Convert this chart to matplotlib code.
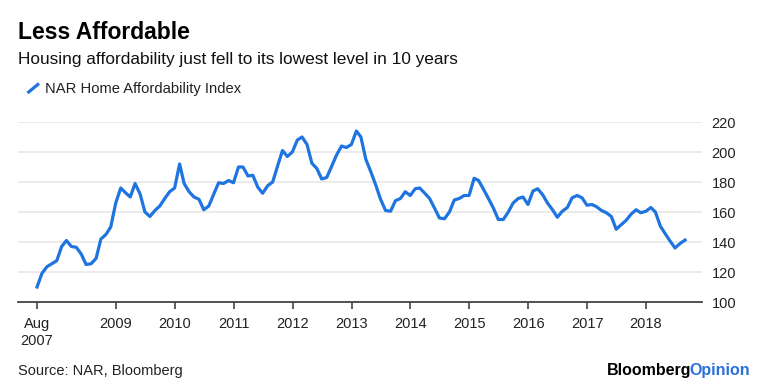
import matplotlib
matplotlib.use('Agg')
import matplotlib.pyplot as plt
import matplotlib.dates as mdates
import pandas as pd

# NAR Home Affordability Index, monthly, Aug 2007 - Aug 2018
hai_2007 = [110, 119, 123.5, 125.5, 127.5]
hai_2008 = [137, 141, 137, 136.5, 132, 125, 125.5, 129, 142, 145, 150, 166]
hai_2009 = [176, 173, 170, 179, 172, 160, 157, 161, 164, 169, 173.5, 176]
hai_2010 = [192, 179, 173.5, 170, 168.5, 161.5, 164, 172, 179.5, 179, 181, 179.5]
hai_2011 = [190, 190, 184, 184.5, 176.5, 172.5, 177.5, 180, 190.5, 201, 197, 200]
hai_2012 = [208, 210, 205, 192.5, 189, 182, 183, 190.5, 198, 204, 203, 205]
hai_2013 = [214, 210, 195, 187, 178, 168.5, 161, 160.5, 167.5, 169, 173.5, 171]
hai_2014 = [175.5, 176, 172.5, 169, 162.5, 156, 155.5, 160, 168, 169, 171, 171]
hai_2015 = [182.5, 181, 175, 169, 162.5, 155, 155, 160, 166, 169, 170, 165]
hai_2016 = [174, 175.5, 171.5, 166, 161.5, 156.5, 160.5, 163, 169.5, 171, 169.5, 164.5]
hai_2017 = [165, 163.5, 161, 159.5, 157, 148.5, 151.5, 154.5, 158.5, 161.5, 159.5, 160.5]
hai_2018 = [163, 160, 150.5, 145.5, 140.5, 136, 139, 141.3]

values = (hai_2007 + hai_2008 + hai_2009 + hai_2010 + hai_2011 + hai_2012
          + hai_2013 + hai_2014 + hai_2015 + hai_2016 + hai_2017 + hai_2018)
dates = pd.date_range('2007-08-31', periods=len(values), freq='ME')

tick_dates = ['2007-08-31'] + ['%d-01-01' % y for y in range(2009, 2019)]
tick_labels = ['Aug\n2007'] + [str(y) for y in range(2009, 2019)]
y_ticks = [100, 120, 140, 160, 180, 200, 220]

blue = '#1f74e0'
font = 'Liberation Sans'
plt.rcParams['font.family'] = [font, 'DejaVu Sans']

W, H = 760, 387
fig = plt.figure(figsize=(W / 100, H / 100), dpi=100)
ax = fig.add_axes([18 / W, 1 - 302 / H, (702 - 18) / W, (302 - 122) / H])

ax.plot(dates, values, color=blue, lw=2.3, solid_joinstyle='round', zorder=3)

ax.set_xlim(pd.Timestamp('2007-05-05'), pd.Timestamp('2018-12-14'))
ax.set_ylim(100, 220)
ax.set_yticks(y_ticks)
ax.yaxis.tick_right()
ax.tick_params(axis='y', length=0, pad=7, labelsize=10.5, labelcolor='#222222')
ax.grid(axis='y', color='#e8e8e8', lw=1.2)
ax.set_axisbelow(True)

ax.set_xticks([mdates.date2num(pd.Timestamp(d)) for d in tick_dates])
ax.set_xticklabels(tick_labels, linespacing=1.25)
ax.tick_params(axis='x', length=5, width=1.2, color='#444444', pad=6,
               labelsize=10.5, labelcolor='#222222')

for s in ['top', 'left', 'right']:
    ax.spines[s].set_visible(False)
ax.spines['bottom'].set_color('#444444')
ax.spines['bottom'].set_linewidth(1.3)

# header
fig.text(18 / W, 1 - 39 / H, 'Less Affordable', fontsize=16.5, fontweight='bold',
         va='baseline', ha='left')
fig.text(18 / W, 1 - 64 / H,
         'Housing affordability just fell to its lowest level in 10 years',
         fontsize=12.4, va='baseline', ha='left', color='#111111')
fig.add_artist(plt.Line2D([27.5 / W, 39 / W], [1 - 93 / H, 1 - 83.5 / H],
                          color=blue, lw=2.3, solid_capstyle='butt'))
fig.text(45 / W, 1 - 93 / H, 'NAR Home Affordability Index', fontsize=10.6,
         va='baseline', ha='left', color='#222222')

# footer
fig.text(18 / W, 1 - 375 / H, 'Source: NAR, Bloomberg', fontsize=10.5,
         va='baseline', ha='left', color='#222222')
op = fig.text(750 / W, 1 - 375 / H, 'Opinion', fontsize=11.5, fontweight='bold',
              va='baseline', ha='right', color='#2a6fdb')
fig.canvas.draw()
bb = op.get_window_extent()
fig.text((bb.x0 + 2) / W, 1 - 375 / H, 'Bloomberg', fontsize=11.5, fontweight='bold',
         va='baseline', ha='right', color='black')

fig.savefig('out.png', dpi=100)
